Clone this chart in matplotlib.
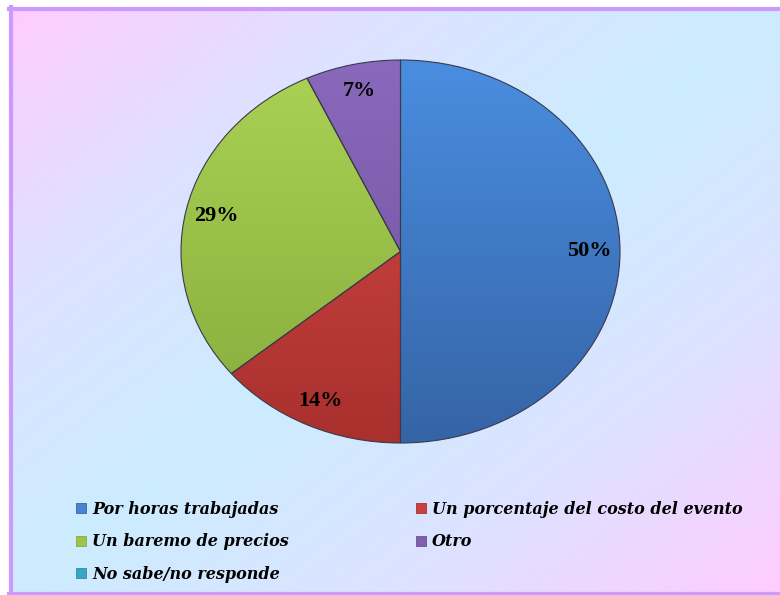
import numpy as np
import matplotlib.pyplot as plt
from matplotlib.patches import Patch
from matplotlib.colors import LinearSegmentedColormap

categorias = ['Por horas trabajadas', 'Un porcentaje del costo del evento',
              'Un baremo de precios', 'Otro', 'No sabe/no responde']
porcentajes = [50, 14, 29, 7, 0]
colores = ['#4584D3', '#C8413E', '#9DC34A', '#7F5FAE', '#3AA5C2']
claros = ['#4A8DE0', '#D84A46', '#AAD254', '#8A69BC', '#45B3D0']
oscuros = ['#3564A6', '#A8302D', '#86AB3C', '#6E4F9A', '#2E8CA6']

fig = plt.figure(figsize=(7.8, 5.95), dpi=100)
fig.patch.set_facecolor('white')

# --- fondo con degradado y marco ---
fondo = fig.add_axes([0, 0, 1, 1], zorder=0)
fondo.set_xlim(0, 780)
fondo.set_ylim(595, 0)
fondo.axis('off')
gx, gy = np.meshgrid(np.linspace(0, 1, 400), np.linspace(0, 1, 300))
t = np.abs((gx + gy) - 1.0)
cmap_fondo = LinearSegmentedColormap.from_list('fondo', ['#CCECFF', '#DDE2FF', '#FFCCFF'])
fondo.imshow(t, cmap=cmap_fondo, extent=(11, 780, 594, 9), aspect='auto', vmin=0, vmax=1)
fondo.plot([11, 11], [7, 595], color='#CC99FF', lw=3)
fondo.plot([9, 780], [9, 9], color='#CC99FF', lw=3)
fondo.plot([9, 780], [594, 594], color='#CC99FF', lw=3)

# --- gráfico de torta (elíptico) ---
ax = fig.add_axes([181 / 780, 1 - 443 / 595, 439 / 780, 383 / 595], zorder=1)
vals = [v for v in porcentajes if v > 0]
cols = [c for v, c in zip(porcentajes, colores) if v > 0]
wedges, textos, autotextos = ax.pie(
    vals, colors=cols, startangle=90, counterclock=False,
    autopct='%1.0f%%', pctdistance=0.86,
    wedgeprops=dict(edgecolor='#3A3A4A', linewidth=0.8),
    textprops=dict(family='Liberation Serif', weight='bold', size=16, color='black'))
ax.set_aspect('auto')

# degradado vertical dentro de cada porción
yy = np.linspace(1, 0, 200).reshape(-1, 1)
for w, cl, co in zip(wedges, [c for v, c in zip(porcentajes, claros) if v > 0],
                     [c for v, c in zip(porcentajes, oscuros) if v > 0]):
    cm = LinearSegmentedColormap.from_list('g', [co, cl])
    im = ax.imshow(yy, cmap=cm, extent=(-1, 1, -1, 1), aspect='auto', zorder=1.5)
    im.set_clip_path(w)
    w.set_facecolor('none')
    w.set_zorder(2)
for txt in autotextos:
    txt.set_zorder(3)
ax.set_xlim(-1, 1)
ax.set_ylim(-1, 1)

# --- leyenda (dos columnas) ---
orden = [0, 2, 4, 1, 3]
handles = [Patch(facecolor=colores[i], edgecolor=oscuros[i], linewidth=0.6) for i in orden]
etiquetas = [categorias[i] for i in orden]
fig.legend(handles, etiquetas, ncol=2, loc='upper left', bbox_to_anchor=(62 / 780, 1 - 486.5 / 595),
           frameon=False, handlelength=0.6, handleheight=0.6, handletextpad=0.4,
           columnspacing=7.95, labelspacing=0.97,
           prop=dict(family='DejaVu Serif', weight='bold', style='italic', size=11.5))

fig.savefig('out.png', dpi=100)
